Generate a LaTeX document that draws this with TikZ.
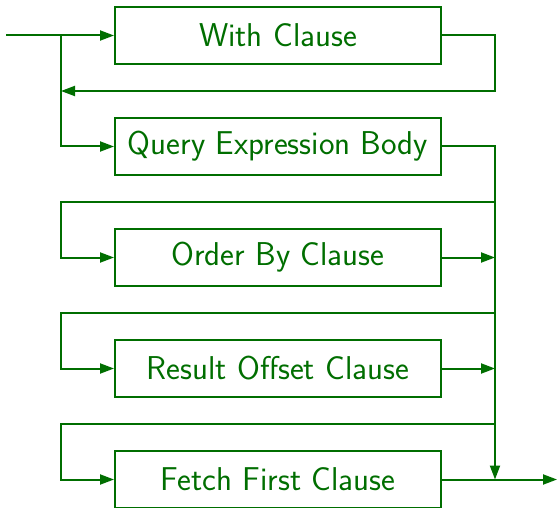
\documentclass[tikz,border=0pt]{standalone}
\usetikzlibrary{arrows.meta}
\definecolor{dg}{RGB}{0,110,0}
\begin{document}
\begin{tikzpicture}[x=1pt,y=-1pt,
  line width=2pt, draw=dg,
  clause/.style={draw=dg, line width=2pt, minimum width=326pt, minimum height=57pt, inner sep=0pt, text=dg, font=\sffamily\fontsize{33}{38}\selectfont},
  flow/.style={dg, line width=2pt, -{Triangle[length=14pt,width=10pt]}},
  plain/.style={dg, line width=2pt}]
\useasboundingbox (0,0) rectangle (557,508);
\node[clause] (w) at (278,35.5) {With Clause};
\node[clause] (q) at (278,146.5) {Query Expression Body};
\node[clause] (o) at (278,257.5) {Order By Clause};
\node[clause] (r) at (278,368.5) {Result Offset Clause};
\node[clause] (f) at (278,479.5) {Fetch First Clause};
\coordinate (s) at (6,35.5);
\coordinate (j1) at (61,35.5);
\coordinate (wr) at (495,35.5);
\coordinate (wb) at (495,91);
\coordinate (wl) at (61,91);
\coordinate (ql) at (61,146.5);
\coordinate (qr) at (495,146.5);
\coordinate (l1r) at (495,202);
\coordinate (l1l) at (61,202);
\coordinate (ol) at (61,257.5);
\coordinate (or) at (495,257.5);
\coordinate (l2r) at (495,313);
\coordinate (l2l) at (61,313);
\coordinate (rl) at (61,368.5);
\coordinate (rr) at (495,368.5);
\coordinate (l3r) at (495,424);
\coordinate (l3l) at (61,424);
\coordinate (fl) at (61,479.5);
\coordinate (fr) at (495,479.5);
\coordinate (e) at (557,479.5);
\draw[flow] (s) -- (w.west);
\draw[flow] (w.east) -- (wr) -- (wb) -- (wl);
\draw[flow] (j1) -- (ql) -- (q.west);
\draw[flow] (q.east) -- (qr) -- (fr);
\draw[flow] (l1r) -- (l1l) -- (ol) -- (o.west);
\draw[flow] (o.east) -- (or);
\draw[flow] (l2r) -- (l2l) -- (rl) -- (r.west);
\draw[flow] (r.east) -- (rr);
\draw[flow] (l3r) -- (l3l) -- (fl) -- (f.west);
\draw[flow] (f.east) -- (e);
\end{tikzpicture}
\end{document}
